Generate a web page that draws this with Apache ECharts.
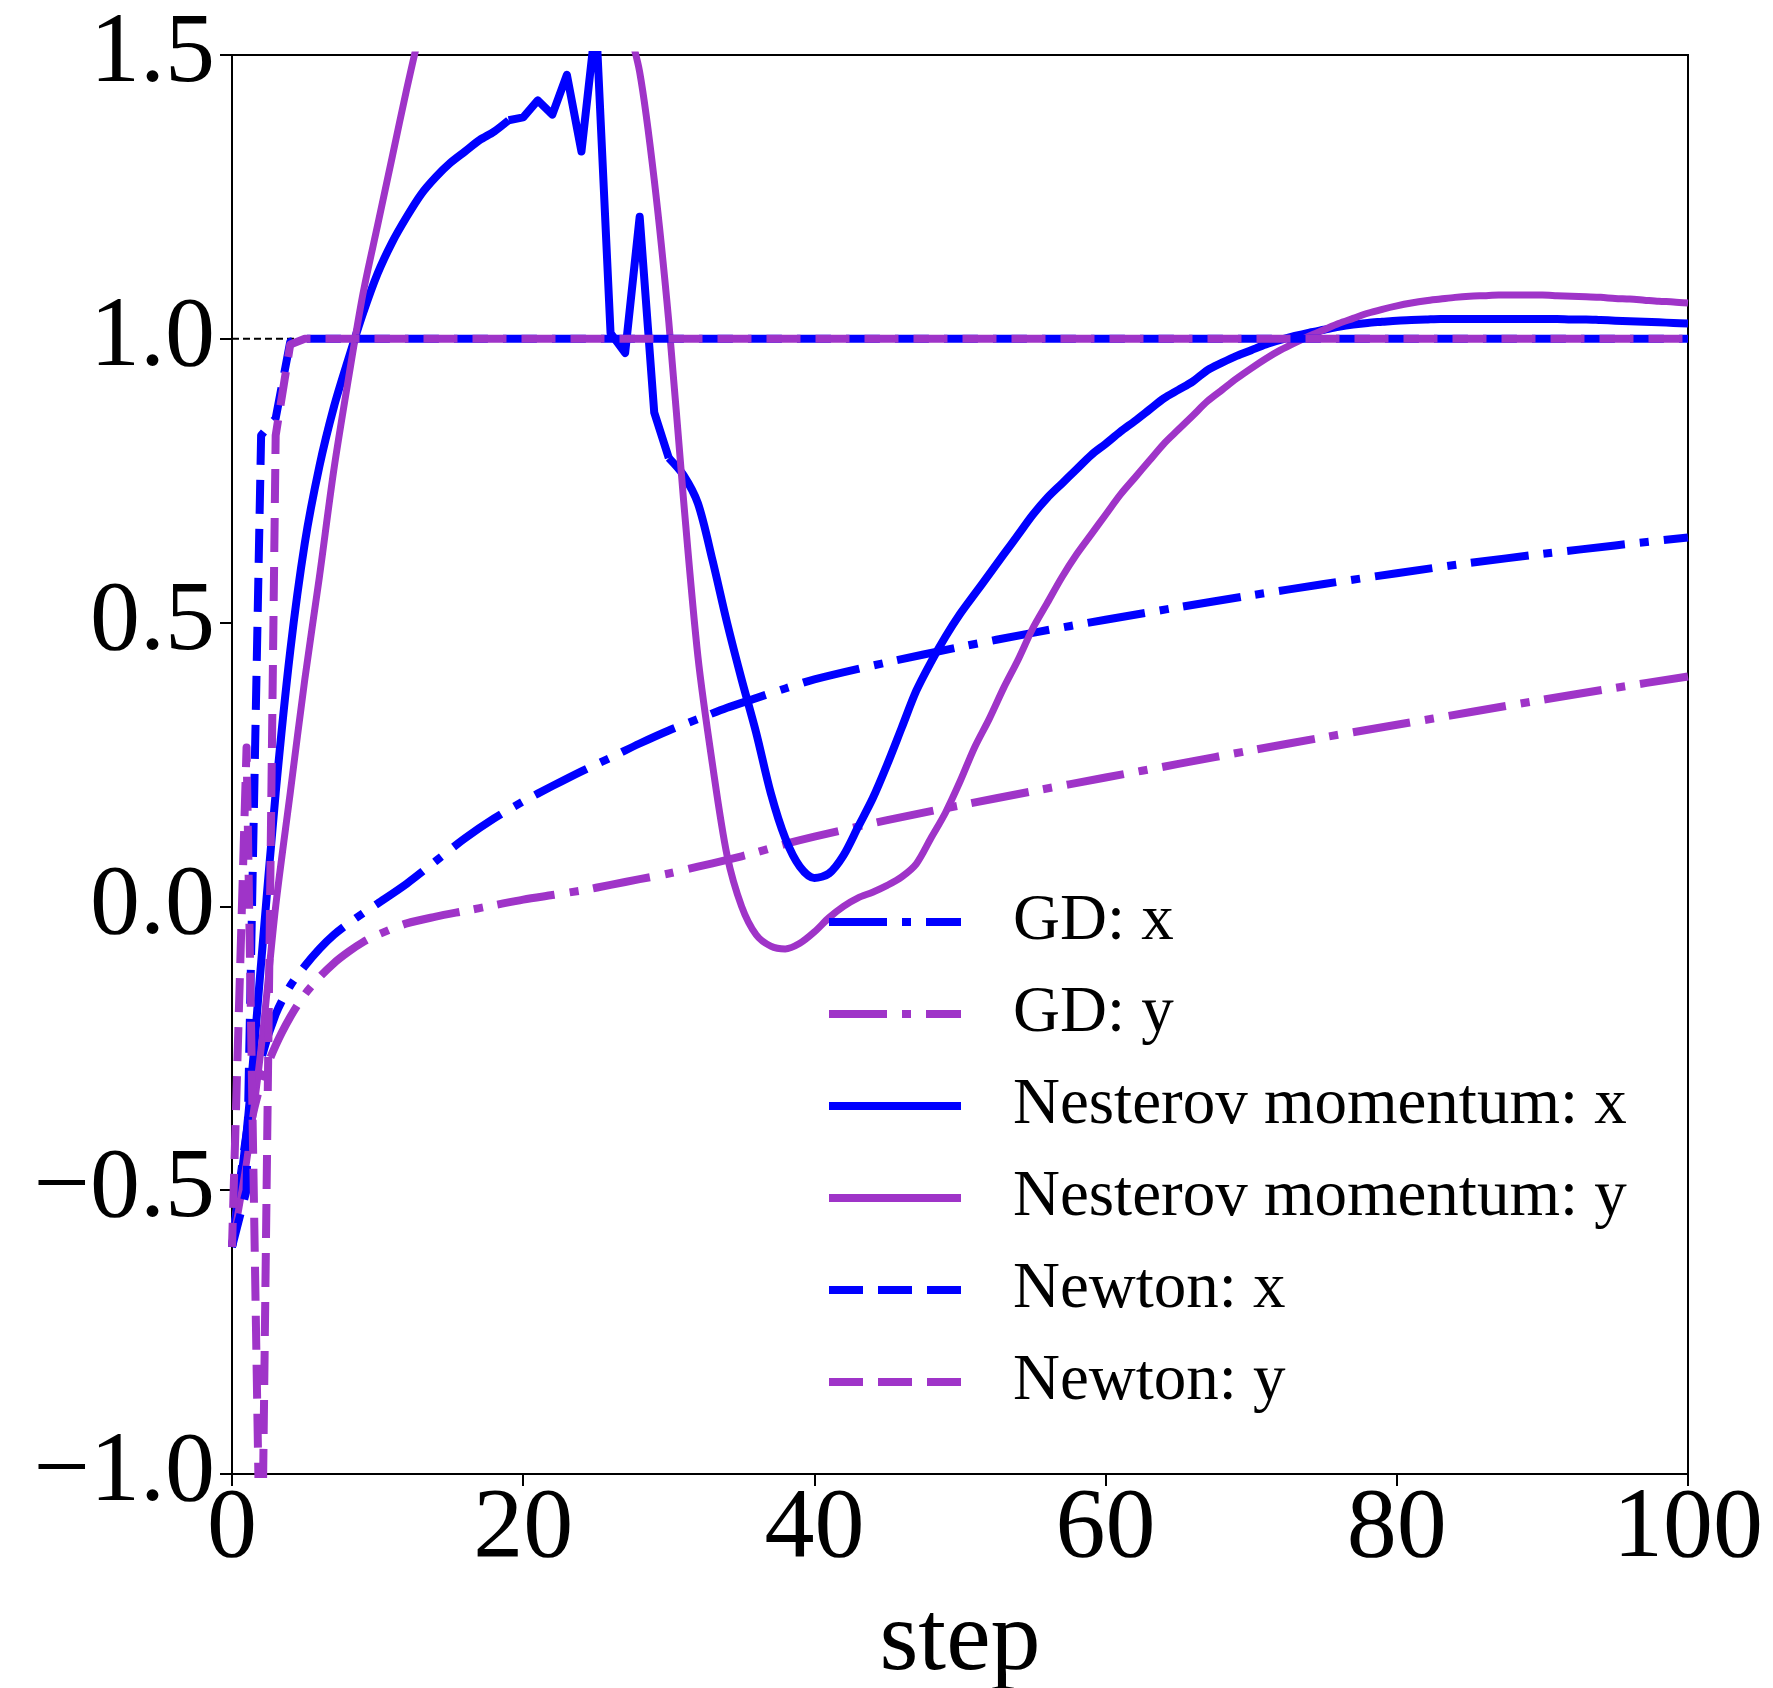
<!DOCTYPE html>
<html>
<head>
<meta charset="utf-8">
<script src="https://cdn.jsdelivr.net/npm/echarts@6/dist/echarts.min.js"></script>
<style>
  html, body { margin: 0; padding: 0; background: #fff; }
  #chart { width: 1773px; height: 1688px; }
</style>
</head>
<body>
<div id="chart"></div>
<script>
// Iterates of three optimizers (x and y coordinates) versus step.

// Gradient descent, sampled steps
const gdSteps = [0, 1, 2, 3, 4, 5, 6, 7, 8, 9, 10, 12, 14, 16, 18, 20, 22, 24, 26, 28, 30,
  32, 34, 36, 38, 40, 45, 50, 55, 60, 65, 70, 75, 80, 85, 90, 95, 100];
const gdX = [-0.6, -0.4, -0.27, -0.19, -0.14, -0.105, -0.075, -0.05, -0.03, -0.012, 0.005,
  0.04, 0.08, 0.12, 0.155, 0.185, 0.212, 0.238, 0.262, 0.287, 0.31, 0.33, 0.35, 0.367, 0.384,
  0.40, 0.43, 0.457, 0.482, 0.505, 0.527, 0.548, 0.568, 0.587, 0.605, 0.621, 0.636, 0.65];
const gdY = [-0.6, -0.42, -0.31, -0.245, -0.195, -0.155, -0.125, -0.1, -0.08, -0.063, -0.05,
  -0.03, -0.018, -0.008, 0.002, 0.012, 0.02, 0.028, 0.038, 0.048, 0.058, 0.07, 0.082, 0.095,
  0.11, 0.123, 0.152, 0.178, 0.203, 0.227, 0.251, 0.275, 0.298, 0.32, 0.342, 0.364, 0.385, 0.405];

// Nesterov momentum, every step 0..100
const nesterovX = [-0.6, -0.4, -0.1, 0.2, 0.45, 0.64, 0.775, 0.88, 0.965, 1.045,
  1.115, 1.17, 1.215, 1.255, 1.285, 1.31, 1.33, 1.35, 1.365, 1.385,
  1.39, 1.42, 1.395, 1.465, 1.33, 1.56, 1.01, 0.975, 1.215, 0.87,
  0.79, 0.76, 0.71, 0.61, 0.5, 0.4, 0.306, 0.2, 0.12, 0.07,
  0.05, 0.058, 0.09, 0.14, 0.19, 0.25, 0.315, 0.38, 0.43, 0.475,
  0.515, 0.55, 0.585, 0.62, 0.655, 0.69, 0.72, 0.745, 0.77, 0.795,
  0.815, 0.836, 0.855, 0.875, 0.895, 0.91, 0.925, 0.945, 0.958, 0.97,
  0.98, 0.99, 0.998, 1.005, 1.011, 1.016, 1.021, 1.025, 1.028, 1.03,
  1.032, 1.033, 1.034, 1.035, 1.035, 1.035, 1.035, 1.035, 1.035, 1.035,
  1.035, 1.035, 1.034, 1.034, 1.033, 1.032, 1.031, 1.03, 1.029, 1.028, 1.027];
const nesterovY = [-0.6, -0.45, -0.25, 0.0, 0.2, 0.4, 0.58, 0.77, 0.93, 1.08,
  1.2, 1.32, 1.44, 1.55, 1.64, 1.72, 1.78, 1.83, 1.86, 1.88,
  1.89, 1.89, 1.88, 1.85, 1.8, 1.74, 1.66, 1.57, 1.47, 1.28,
  1.03, 0.72, 0.44, 0.25, 0.09, 0.0, -0.05, -0.07, -0.075, -0.065,
  -0.045, -0.02, 0.0, 0.015, 0.025, 0.037, 0.052, 0.075, 0.12, 0.165,
  0.22, 0.28, 0.33, 0.385, 0.435, 0.49, 0.535, 0.58, 0.62, 0.655,
  0.69, 0.725, 0.755, 0.785, 0.815, 0.84, 0.865, 0.89, 0.91, 0.93,
  0.948, 0.965, 0.98, 0.993, 1.005, 1.016, 1.027, 1.036, 1.045, 1.052,
  1.058, 1.063, 1.067, 1.07, 1.073, 1.075, 1.076, 1.077, 1.077, 1.077,
  1.077, 1.076, 1.075, 1.074, 1.073, 1.071, 1.07, 1.068, 1.066, 1.065, 1.063];

// Steps between which the x iterate oscillates (drawn without smoothing)
const oscillationRange = [19, 30];

// Newton's method converges after a few steps and then stays at the optimum
const newtonSteps = [0, 1, 2, 3, 4, 5, 100];
const newtonX = [-0.6, -0.5, 0.83, 0.86, 0.995, 1.0, 1.0];
const newtonY = [-0.6, 0.28, -1.3, 0.83, 0.99, 1.0, 1.0];

// Optimum value shown as a thin reference line
const optimumValue = 1.0;
const stepRange = [0, 100];

const xTicks = [0, 20, 40, 60, 80, 100];
const yTicks = [-1.0, -0.5, 0.0, 0.5, 1.0, 1.5];

const legendNames = ['GD: x', 'GD: y', 'Nesterov momentum: x', 'Nesterov momentum: y', 'Newton: x', 'Newton: y'];

const BLUE = '#0000ff';
const PURPLE = '#9f34c8';
const FONT = '"Liberation Serif", "Times New Roman", serif';
const DASH_DOT = [58, 15, 9, 15];
const DASHED = [34, 15];

function pairs(xs, ys) {
  return xs.map((s, i) => [s, ys[i]]);
}
const nesterovSteps = nesterovX.map((_, i) => i);
const nesterovXPairs = pairs(nesterovSteps, nesterovX);
const nesterovYPairs = pairs(nesterovSteps, nesterovY);

function lineSeries(name, data, color, width, type, smooth, dashOffset) {
  return {
    name: name,
    type: 'line',
    data: data,
    symbol: 'none',
    showSymbol: false,
    clip: true,
    smooth: smooth || false,
    itemStyle: { color: color },
    lineStyle: {
      color: color, width: width, type: type, dashOffset: dashOffset || 0,
      cap: 'butt', join: 'round'
    },
    emphasis: { disabled: true }
  };
}

const [oscStart, oscEnd] = oscillationRange;

const chart = echarts.init(document.getElementById('chart'), null, { renderer: 'canvas' });

chart.setOption({
  animation: false,
  backgroundColor: '#ffffff',
  grid: {
    left: 232, top: 55, width: 1456, height: 1419,
    outerBoundsMode: 'none',
    containLabel: false,
    show: true, borderColor: '#000', borderWidth: 2, backgroundColor: 'transparent'
  },
  xAxis: {
    type: 'value',
    min: stepRange[0], max: stepRange[1], interval: xTicks[1] - xTicks[0],
    name: 'step',
    nameLocation: 'middle',
    nameGap: 119,
    nameTextStyle: { fontFamily: FONT, fontSize: 100, color: '#000' },
    axisLine: { show: true, onZero: false, lineStyle: { color: '#000', width: 2 } },
    axisTick: { show: true, inside: false, length: 12, lineStyle: { color: '#000', width: 2 } },
    axisLabel: { fontFamily: FONT, fontSize: 100, color: '#000', margin: 6 },
    splitLine: { show: false }
  },
  yAxis: {
    type: 'value',
    min: yTicks[0], max: yTicks[yTicks.length - 1], interval: yTicks[1] - yTicks[0],
    axisLine: { show: true, onZero: false, lineStyle: { color: '#000', width: 2 } },
    axisTick: { show: true, inside: false, length: 12, lineStyle: { color: '#000', width: 2 } },
    axisLabel: {
      fontFamily: FONT, fontSize: 100, color: '#000', margin: 17,
      formatter: v => (v < 0 ? '\u2212' : '') + Math.abs(v).toFixed(1)
    },
    splitLine: { show: false }
  },
  legend: {
    data: legendNames,
    orient: 'vertical',
    left: 820,
    top: 882,
    itemWidth: 132,
    itemHeight: 14,
    itemGap: 22,
    selectedMode: false,
    itemStyle: { opacity: 0 },
    lineStyle: { width: 8, dashOffset: 0 },
    textStyle: { fontFamily: FONT, fontSize: 65, color: '#000', lineHeight: 70, padding: [0, 0, 0, 47] }
  },
  series: [
    {
      name: 'optimum',
      type: 'line',
      data: [[stepRange[0], optimumValue], [stepRange[1], optimumValue]],
      symbol: 'none',
      silent: true,
      z: 1,
      lineStyle: { color: '#000', width: 2, type: [7, 4] },
      itemStyle: { color: '#000' }
    },
    lineSeries(legendNames[0], pairs(gdSteps, gdX), BLUE, 8, DASH_DOT, 0.3),
    lineSeries(legendNames[1], pairs(gdSteps, gdY), PURPLE, 8, DASH_DOT, 0.3),
    // smooth rise, sharp oscillation, smooth settling
    lineSeries(legendNames[2], nesterovXPairs.slice(0, oscStart + 1), BLUE, 8, 'solid', 0.3),
    lineSeries(legendNames[2], nesterovXPairs.slice(oscStart, oscEnd + 1), BLUE, 8, 'solid', false),
    lineSeries(legendNames[2], nesterovXPairs.slice(oscEnd), BLUE, 8, 'solid', 0.3),
    lineSeries(legendNames[3], nesterovYPairs, PURPLE, 7, 'solid', 0.3),
    lineSeries(legendNames[4], pairs(newtonSteps, newtonX), BLUE, 8, DASHED),
    lineSeries(legendNames[5], pairs(newtonSteps, newtonY), PURPLE, 8, DASHED, false, 10)
  ]
});
</script>
</body>
</html>
